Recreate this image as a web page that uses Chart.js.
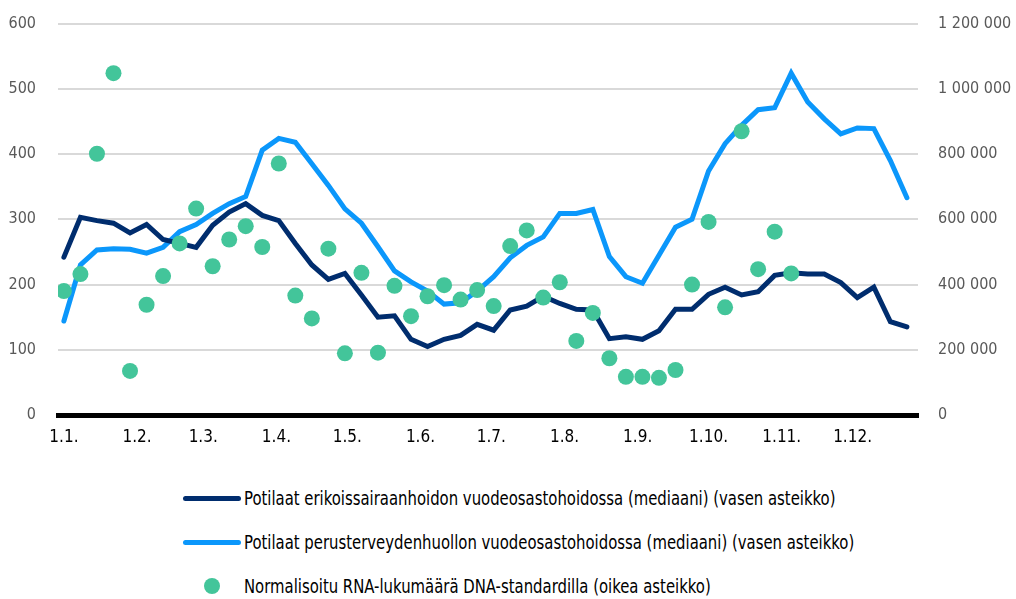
<!DOCTYPE html>
<html>
<head>
<meta charset="utf-8">
<script src="https://cdn.jsdelivr.net/npm/chart.js@4/dist/chart.umd.min.js"></script>
<style>
  body { margin: 0; background: #fff; font-family: 'DejaVu Sans Condensed', sans-serif; overflow: hidden; }
  #wrap { position: absolute; left: 0; top: -8px; width: 1016px; height: 473px; }
  #legend { position: absolute; left: 183px; top: 476px; }
  .row { display: flex; align-items: center; height: 44px; font-size: 19px; color: #000; white-space: nowrap; }
  .mark { width: 58px; display: flex; justify-content: center; align-items: center; margin-right: 3px; }
  .line { width: 58px; height: 5px; border-radius: 3px; }
  .dot { width: 16px; height: 16px; border-radius: 50%; }
  .txt { display: inline-block; transform: scaleX(0.87); transform-origin: left center; }
</style>
</head>
<body>
<div id="wrap"><canvas id="chart"></canvas></div>
<div id="legend"></div>
<script>
// tick labels on the x axis and the day of year they sit at
const kuukaudet = ['1.1.', '1.2.', '1.3.', '1.4.', '1.5.', '1.6.', '1.7.', '1.8.', '1.9.', '1.10.', '1.11.', '1.12.'];
const kuukausiPaivat = [0, 31, 59, 90, 120, 151, 181, 212, 243, 273, 304, 334];

// weekly series, 52 weeks
const erikoissairaanhoito = [242, 303, 298, 294, 279, 292, 269, 263, 257, 291,
  311, 324, 306, 298, 263, 230, 208, 217, 184, 150,
  152, 116, 105, 116, 122, 139, 130, 161, 167, 182,
  171, 162, 161, 117, 120, 116, 129, 162, 162, 185,
  196, 184, 189, 214, 218, 216, 216, 203, 180, 196,
  143, 135];
const perusterveydenhuolto = [144, 230, 253, 255, 254, 248, 257, 281, 292, 309,
  324, 335, 406, 424, 418, 385, 352, 316, 294, 258,
  221, 204, 190, 170, 172, 190, 212, 241, 260, 273,
  309, 309, 315, 243, 212, 202, 245, 288, 300, 374,
  416, 444, 468, 471, 524, 480, 454, 431, 440, 439,
  390, 333];
const rnaMaara = [380000, 432000, 801000, 1048000, 135000, 338000, 426000, 526000, 633000, 456000,
  538000, 579000, 515000, 771000, 366000, 296000, 510000, 189000, 436000, 191000,
  396000, 303000, 364000, 398000, 354000, 383000, 334000, 518000, 566000, 360000,
  407000, 227000, 313000, 174000, 117000, 117000, 114000, 138000, 400000, 592000,
  330000, 870000, 447000, 562000, 434000, null, null, null, null, null,
  null, null];

const viikkoPaiva = erikoissairaanhoito.map((_, i) => i * 7);
const pisteet = arr => arr.map((v, i) => ({ x: viikkoPaiva[i], y: v })).filter(p => p.y !== null);

const fontti = "'DejaVu Sans Condensed', sans-serif";
const tuhannet = v => String(v).replace(/\B(?=(\d{3})+(?!\d))/g, ' ');

const sarjat = [
  {
    label: 'Normalisoitu RNA-lukumäärä DNA-standardilla (oikea asteikko)',
    data: pisteet(rnaMaara),
    yAxisID: 'y2',
    showLine: false,
    pointRadius: 8,
    pointBackgroundColor: '#43c59a',
    pointBorderWidth: 0,
    backgroundColor: '#43c59a',
    borderColor: '#43c59a',
    order: 0
  },
  {
    label: 'Potilaat erikoissairaanhoidon vuodeosastohoidossa (mediaani) (vasen asteikko)',
    data: pisteet(erikoissairaanhoito),
    yAxisID: 'y',
    borderColor: '#002d6e',
    backgroundColor: '#002d6e',
    borderWidth: 5,
    pointRadius: 0,
    borderCapStyle: 'round',
    tension: 0,
    order: 1
  },
  {
    label: 'Potilaat perusterveydenhuollon vuodeosastohoidossa (mediaani) (vasen asteikko)',
    data: pisteet(perusterveydenhuolto),
    yAxisID: 'y',
    borderColor: '#0b97fb',
    backgroundColor: '#0b97fb',
    borderWidth: 5,
    pointRadius: 0,
    borderCapStyle: 'round',
    tension: 0,
    order: 2
  }
];

new Chart(document.getElementById('chart').getContext('2d'), {
  type: 'line',
  data: { datasets: sarjat },
  options: {
    responsive: true,
    maintainAspectRatio: false,
    animation: false,
    layout: { padding: { top: 0, left: 0, right: 0, bottom: 0 } },
    plugins: { legend: { display: false }, tooltip: { enabled: false } },
    scales: {
      x: {
        type: 'linear',
        min: -2.5,
        max: 361.7,
        afterBuildTicks: scale => { scale.ticks = kuukausiPaivat.map(v => ({ value: v })); },
        afterFit: scale => { scale.height = 50; },
        ticks: {
          autoSkip: false,
          maxRotation: 0,
          padding: 12,
          color: '#000',
          font: { family: fontti, size: 17 },
          callback: (v, i) => kuukaudet[i]
        },
        grid: { display: false, drawTicks: false },
        border: { display: true, color: '#000', width: 5 }
      },
      y: {
        position: 'left',
        min: 0,
        max: 600,
        afterFit: scale => { scale.width = 58; },
        ticks: { stepSize: 100, padding: 22, color: '#595959', font: { family: fontti, size: 16 } },
        grid: { color: '#d9d9d9', lineWidth: 2, drawTicks: false, tickLength: 0 },
        border: { display: false }
      },
      y2: {
        position: 'right',
        min: 0,
        max: 1200000,
        afterFit: scale => { scale.width = 98; },
        ticks: { stepSize: 200000, padding: 20, color: '#595959', font: { family: fontti, size: 16 }, callback: v => tuhannet(v) },
        grid: { display: false, drawTicks: false, tickLength: 0 },
        border: { display: false }
      }
    }
  }
});

// legend below the chart, one item per row
const legend = document.getElementById('legend');
[sarjat[1], sarjat[2], sarjat[0]].forEach(s => {
  const row = document.createElement('div');
  row.className = 'row';
  const mark = document.createElement('span');
  mark.className = 'mark';
  const sym = document.createElement('span');
  sym.className = s.showLine === false ? 'dot' : 'line';
  sym.style.background = s.borderColor;
  mark.appendChild(sym);
  const txt = document.createElement('span');
  txt.className = 'txt';
  txt.textContent = s.label;
  row.appendChild(mark);
  row.appendChild(txt);
  legend.appendChild(row);
});
</script>
</body>
</html>
